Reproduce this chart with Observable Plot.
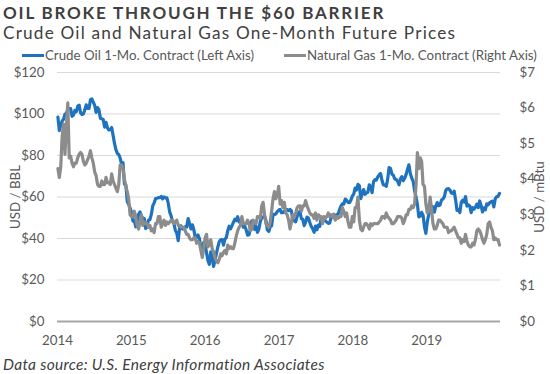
<!DOCTYPE html>
<html><head><meta charset="utf-8">
<script src="https://cdn.jsdelivr.net/npm/d3@7"></script>
<script src="https://cdn.jsdelivr.net/npm/@observablehq/plot@0.6"></script>
<style>
body{margin:0;background:#fff;font-family:Lato,"Open Sans",sans-serif;}
#wrap{position:relative;width:550px;height:374px;overflow:hidden;background:#fff;}
#title{position:absolute;left:3px;top:2px;font-weight:700;font-size:17px;letter-spacing:1.8px;color:#404040;white-space:nowrap;line-height:21px;}
#subtitle{position:absolute;left:3px;top:23px;font-size:17.2px;letter-spacing:1.2px;color:#404040;white-space:nowrap;line-height:20px;}
.leg{position:absolute;top:47px;font-size:13.3px;color:#595959;white-space:nowrap;line-height:16px;}
.sw{display:inline-block;width:22px;height:3px;vertical-align:middle;margin-right:1px;position:relative;top:-1px;}
#chart{position:absolute;left:0;top:60px;}
#caption{position:absolute;left:3px;top:355px;font-style:italic;font-size:15.5px;letter-spacing:0.3px;color:#404040;white-space:nowrap;line-height:18px;}
</style></head>
<body><div id="wrap">
<div id="title">OIL BROKE THROUGH THE $60 BARRIER</div>
<div id="subtitle">Crude Oil and Natural Gas One-Month Future Prices</div>
<div class="leg" style="left:22px"><span class="sw" style="background:#1f73be"></span>Crude Oil 1-Mo. Contract (Left Axis)</div>
<div class="leg" style="left:284px"><span class="sw" style="background:#8c8c8c"></span>Natural Gas 1-Mo. Contract (Right Axis)</div>
<div id="chart"></div>
<div id="caption">Data source: U.S. Energy Information Associates</div>
</div>
<script>
// Weekly (Friday) values, $/bbl
const oil2014 = [98.5,92.0,94.4,96.6,97.5, 99.9,100.3,102.2,102.6, 102.6,98.9,99.5,101.7, 101.1,103.7,104.3,100.6, 99.8,100.0,102.0,104.4,102.7, 102.7,106.9,107.3,105.7, 104.1,100.8,103.1,102.1, 97.9,97.7,97.4,93.7,96.0, 93.3,92.3,92.4,93.5, 89.7,85.8,82.8,81.0,80.5, 78.7,75.8,76.5,66.2, 65.8,57.8,56.5,54.7];
const oil2015 = [52.7,48.4,48.7,45.6,48.2, 51.7,52.8,50.8,49.8, 49.6,44.8,45.7,48.9, 49.1,51.6,55.7,57.2, 59.2,59.4,59.7,59.7,60.3, 59.1,60.0,59.6,59.6, 56.9,52.7,50.9,48.1,47.1, 43.9,42.5,39.0,45.2, 46.1,44.6,44.7,45.7, 45.5,49.6,47.3,44.6,46.6, 44.3,40.7,40.4,41.7, 40.0,35.6,34.7,38.1];
const oil2016 = [37.0,33.2,29.4,27.5,33.6, 30.9,26.5,29.6,32.8, 35.9,38.5,39.4,39.5, 36.8,39.7,40.4,43.7,45.9, 44.7,46.2,47.8,49.3, 48.6,50.5,48.0,47.6, 49.0,45.4,46.0,44.2,41.6, 41.8,44.5,48.5,47.6, 44.4,45.9,43.0,44.5,48.2, 49.8,50.4,50.9,48.7, 44.1,43.4,45.7,46.1, 51.7,51.5,51.9,53.0,53.7];
const oil2017 = [54.0,52.4,52.4,53.2, 53.8,53.9,53.4,54.0, 53.3,48.5,48.8,48.0,50.6, 52.2,53.2,49.6,49.3, 46.2,47.8,50.3,49.8, 47.7,45.8,44.7,43.0,46.0, 44.2,46.5,45.8,49.7, 49.6,48.8,48.5,47.9, 47.3,47.5,49.9,50.7,51.7, 49.3,51.5,51.8,53.9, 55.6,56.7,56.6,59.0, 58.4,57.4,57.3,58.5,60.4];
const oil2018 = [61.4,64.3,63.4,66.1, 65.5,59.2,61.7,63.6, 61.3,62.0,62.3,65.9,64.9, 62.1,67.4,68.4,68.1, 69.7,70.7,71.3,67.9, 65.8,65.7,65.1,68.6,74.2, 73.8,71.0,70.5,68.7, 68.5,67.6,65.9,68.7,69.8, 67.8,69.0,70.8,73.3, 75.5,71.3,69.1,67.6, 63.1,60.2,56.5,50.4,50.9, 52.6,51.2,45.6,42.5];
const oil2019 = [48.0,51.6,53.8,53.7, 55.3,52.7,55.6,57.3, 55.8,56.1,58.5,59.0,60.1, 63.1,63.9,64.0,63.3, 61.9,61.7,62.8,58.6,53.5, 54.0,52.5,57.4,58.5, 57.5,60.2,55.6,56.2, 55.7,52.5,54.9,54.2,55.1, 56.5,54.9,58.1,55.9, 52.8,54.7,53.8,56.7, 56.2,57.2,57.7,58.0,55.2, 59.2,60.1,60.4,61.7];

// Weekly (Friday) values, $/mBtu
const gas2014 = [4.30,4.05,4.35,5.20,5.55, 4.70,5.50,6.15,4.60, 4.65,4.45,4.35,4.45, 4.45,4.60,4.70,4.75, 4.70,4.50,4.40,4.45,4.55, 4.65,4.80,4.60,4.45, 4.20,4.10,3.85,3.80, 3.80,3.95,3.85,3.85,4.05, 3.90,3.90,3.85,4.15, 3.95,3.85,3.75,3.65,3.85, 4.40,4.40,4.30,4.00, 3.80,3.65,3.45,3.00];
const gas2015 = [2.95,2.95,3.10,2.95,2.70, 2.60,2.80,3.00,2.70, 2.80,2.75,2.75,2.65, 2.70,2.55,2.60,2.50, 2.75,2.75,2.95,2.95,2.65, 2.75,2.85,2.70,2.80, 2.75,2.80,2.85,2.85,2.75, 2.80,2.85,2.70,2.70, 2.65,2.65,2.65,2.55, 2.45,2.45,2.35,2.30,2.30, 2.35,2.35,2.20,2.25, 2.20,2.00,1.80,2.05];
const gas2016 = [2.35,2.45,2.10,2.15,2.30, 2.05,1.95,1.80,1.70, 1.65,1.75,1.90,1.85, 1.95,2.00,1.90,2.15,2.05, 2.10,2.05,2.05,2.20, 2.40,2.55,2.65,2.70, 2.95,2.75,2.75,2.75,2.85, 2.75,2.55,2.60,2.85, 2.80,2.75,2.95,2.95,2.90, 3.25,3.35,3.00,2.75, 2.70,2.65,2.80,3.10, 3.45,3.65,3.45,3.55,3.80];
const gas2017 = [3.30,3.40,3.20,3.35, 3.05,3.00,2.85,2.60, 2.80,3.00,2.95,3.05,3.20, 3.25,3.25,3.10,3.25, 3.25,3.40,3.25,3.15, 3.05,3.00,3.00,2.90,3.05, 2.85,3.00,2.95,2.95, 2.75,2.95,2.90,2.95, 3.05,2.95,3.00,2.95,3.00, 2.85,2.95,2.90,2.95, 2.95,3.20,3.10,2.95, 3.05,2.80,2.65,2.65,2.95];
const gas2018 = [2.80,3.20,3.20,3.50, 2.85,2.60,2.55,2.65, 2.75,2.75,2.70,2.60,2.75, 2.70,2.75,2.75,2.75, 2.75,2.80,2.85,2.95, 2.95,2.90,3.05,2.95,2.90, 2.85,2.75,2.75,2.80, 2.85,2.95,2.95,2.95,2.90, 2.75,2.85,3.00,3.00, 3.15,3.15,3.25,3.20, 3.30,3.80,4.75,4.30,4.60, 4.50,3.85,3.80,3.30];
const gas2019 = [3.05,3.10,3.50,3.15, 2.75,2.60,2.60,2.70, 2.85,2.85,2.80,2.75,2.65, 2.65,2.65,2.50,2.55, 2.55,2.60,2.65,2.55,2.45, 2.35,2.35,2.20,2.30, 2.25,2.45,2.25,2.15, 2.10,2.10,2.20,2.15,2.30, 2.55,2.60,2.55,2.45, 2.30,2.20,2.30,2.45, 2.75,2.80,2.65,2.55,2.30, 2.35,2.30,2.30,2.15];

const years = [2014, 2015, 2016, 2017, 2018, 2019];
const oilByYear = [oil2014, oil2015, oil2016, oil2017, oil2018, oil2019];
const gasByYear = [gas2014, gas2015, gas2016, gas2017, gas2018, gas2019];
const leftTicks = [0, 20, 40, 60, 80, 100, 120];
const rightTicks = [0, 1, 2, 3, 4, 5, 6, 7];

function build(byYear) {
  return years.flatMap((y, i) => {
    const fridays = d3.utcFriday.range(new Date(Date.UTC(y, 0, 1)), new Date(Date.UTC(y + 1, 0, 1)));
    return byYear[i].map((v, j) => ({date: fridays[Math.min(j, fridays.length - 1)], value: v}));
  });
}
const oil = build(oilByYear);
const gas = build(gasByYear);
const k = 120 / 7; // right axis ($0-$7) aligned to left axis ($0-$120)
const yearDates = years.map(y => new Date(Date.UTC(y, 0, 1)));

const chart = Plot.plot({
  width: 550, height: 292,
  marginLeft: 57, marginRight: 50, marginTop: 12, marginBottom: 31,
  style: {fontFamily: "Lato, 'Open Sans', sans-serif", fontSize: "13.3px", color: "#595959", background: "transparent", overflow: "visible"},
  x: {type: "utc", domain: [new Date(Date.UTC(2014, 0, 1)), new Date(Date.UTC(2020, 0, 1))]},
  y: {domain: [0, 120]},
  marks: [
    Plot.gridY(leftTicks.filter(d => d > 0), {stroke: "#d9d9d9", strokeOpacity: 1, strokeWidth: 1}),
    Plot.axisX(yearDates, {tickSize: 0, tickPadding: 14, tickFormat: d => d3.utcFormat("%Y")(d), label: null}),
    Plot.axisY(leftTicks, {anchor: "left", tickSize: 0, tickPadding: 13, tickFormat: d => "$" + d, label: "USD / BBL", labelAnchor: "center", labelOffset: 47, labelArrow: "none"}),
    Plot.axisY(rightTicks.map(d => d * k), {anchor: "right", tickSize: 0, tickPadding: 19, tickFormat: d => "$" + Math.round(d / k), label: "USD / mBtu", labelAnchor: "center", labelOffset: 43, labelArrow: "none"}),
    Plot.lineY(oil, {x: "date", y: "value", stroke: "#1f73be", strokeWidth: 3.2, strokeLinejoin: "round"}),
    Plot.lineY(gas, {x: "date", y: d => d.value * k, stroke: "#8c8c8c", strokeWidth: 3.2, strokeLinejoin: "round"}),
    Plot.ruleY([0], {stroke: "#a6a6a6", strokeWidth: 2})
  ]
});
document.getElementById("chart").appendChild(chart);
</script>
</body></html>
